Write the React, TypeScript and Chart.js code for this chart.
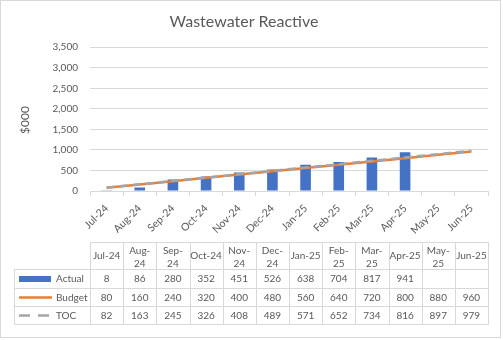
import React, { useEffect, useRef } from "react";
import { Chart, registerables } from "chart.js";

Chart.register(...registerables);

const categories = ["Jul-24", "Aug-24", "Sep-24", "Oct-24", "Nov-24", "Dec-24", "Jan-25", "Feb-25", "Mar-25", "Apr-25", "May-25", "Jun-25"];
const tableHeaders = ["Jul-24", "Aug-\n24", "Sep-\n24", "Oct-24", "Nov-\n24", "Dec-\n24", "Jan-25", "Feb-\n25", "Mar-\n25", "Apr-25", "May-\n25", "Jun-25"];
const actual: (number | null)[] = [8, 86, 280, 352, 451, 526, 638, 704, 817, 941, null, null];
const budget = [80, 160, 240, 320, 400, 480, 560, 640, 720, 800, 880, 960];
const toc = [82, 163, 245, 326, 408, 489, 571, 652, 734, 816, 897, 979];

const FONT = "Lato, 'Open Sans', sans-serif";
const TEXT = "#595959";
const GRID = "#D9D9D9";
const BLUE = "#4472C4";
const ORANGE = "#ED7D31";
const GREY = "#A5A5A5";

const fmt = (v: number | null) => (v == null ? "" : v.toLocaleString("en-US"));

const tablePlugin = {
  id: "dataTable",
  afterDraw(chart: any) {
    const ctx = chart.ctx as CanvasRenderingContext2D;
    const x = chart.scales.x;
    const n = categories.length;
    const cw = x.width / n;
    const left = x.left;
    const right = x.right;
    const legendLeft = 14.5;
    const headTop = 242.5;
    const headBottom = 269.5;
    const rows = [269.5, 288.5, 306.5, 324.5];

    ctx.save();
    ctx.strokeStyle = GRID;
    ctx.lineWidth = 1;
    ctx.strokeRect(0.5, 0.5, 500, 337);

    ctx.save();
    ctx.translate(25, 120);
    ctx.rotate(-Math.PI / 2);
    ctx.fillStyle = TEXT;
    ctx.font = `12px ${FONT}`;
    ctx.textAlign = "center";
    ctx.textBaseline = "middle";
    ctx.fillText("$000", 0, 0);
    ctx.restore();

    ctx.strokeStyle = GRID;
    ctx.lineWidth = 1;
    ctx.beginPath();
    ctx.moveTo(Math.round(left) + 0.5, headTop);
    ctx.lineTo(Math.round(right) + 0.5, headTop);
    for (const y of rows) {
      ctx.moveTo(legendLeft, y);
      ctx.lineTo(Math.round(right) + 0.5, y);
    }
    ctx.moveTo(legendLeft, rows[0]);
    ctx.lineTo(legendLeft, rows[3]);
    for (let i = 0; i <= n; i++) {
      const xx = Math.round(left + i * cw) + 0.5;
      ctx.moveTo(xx, headTop);
      ctx.lineTo(xx, rows[3]);
    }
    ctx.stroke();

    ctx.fillStyle = TEXT;
    ctx.font = `10px ${FONT}`;
    ctx.textAlign = "center";
    ctx.textBaseline = "middle";
    for (let i = 0; i < n; i++) {
      const cx = x.getPixelForValue(i);
      const lines = tableHeaders[i].split("\n");
      if (lines.length === 1) {
        ctx.fillText(lines[0], cx, (headTop + headBottom) / 2);
      } else {
        ctx.fillText(lines[0], cx, headTop + 8);
        ctx.fillText(lines[1], cx, headTop + 21.5);
      }
    }
    const series = [actual, budget, toc];
    for (let r = 0; r < 3; r++) {
      const cy = (rows[r] + rows[r + 1]) / 2;
      for (let i = 0; i < n; i++) {
        const cx = x.getPixelForValue(i);
        ctx.fillText(fmt(series[r][i] as number | null), cx, cy);
      }
    }
    const names = ["Actual", "Budget", "TOC"];
    ctx.textAlign = "left";
    for (let r = 0; r < 3; r++) {
      const cy = (rows[r] + rows[r + 1]) / 2;
      if (r === 0) {
        ctx.fillStyle = BLUE;
        ctx.fillRect(19, cy - 3, 32, 6);
      } else if (r === 1) {
        ctx.strokeStyle = ORANGE;
        ctx.lineWidth = 2.5;
        ctx.beginPath();
        ctx.moveTo(19, cy);
        ctx.lineTo(52, cy);
        ctx.stroke();
      } else {
        ctx.strokeStyle = GREY;
        ctx.lineWidth = 2.5;
        ctx.setLineDash([11, 8]);
        ctx.beginPath();
        ctx.moveTo(19, cy);
        ctx.lineTo(52, cy);
        ctx.stroke();
        ctx.setLineDash([]);
      }
      ctx.fillStyle = TEXT;
      ctx.fillText(names[r], 56, cy);
    }
    ctx.restore();
  },
};

export default function App() {
  const ref = useRef<HTMLCanvasElement>(null);
  useEffect(() => {
    if (!ref.current) return;
    const chart = new Chart(ref.current, {
      type: "bar",
      data: {
        labels: categories,
        datasets: [
          {
            type: "line",
            label: "TOC",
            data: toc,
            borderColor: GREY,
            borderWidth: 2.5,
            borderDash: [8, 5],
            pointRadius: 0,
            order: 1,
          } as any,
          {
            type: "line",
            label: "Budget",
            data: budget,
            borderColor: ORANGE,
            borderWidth: 2.5,
            pointRadius: 0,
            order: 2,
          } as any,
          {
            type: "bar",
            label: "Actual",
            data: actual,
            backgroundColor: BLUE,
            barPercentage: 0.32,
            categoryPercentage: 1,
            order: 3,
          } as any,
        ],
      },
      options: {
        animation: false,
        responsive: true,
        maintainAspectRatio: false,
        layout: { padding: { left: 0, right: 15, top: 0, bottom: 0 } },
        plugins: {
          legend: { display: false },
          tooltip: { enabled: false },
          title: {
            display: true,
            text: "Wastewater Reactive",
            color: TEXT,
            font: { family: FONT, size: 16, weight: "normal" },
            padding: { top: 12, bottom: 16 },
          },
        },
        scales: {
          x: {
            offset: true,
            grid: { display: true, drawOnChartArea: false, drawTicks: true, tickLength: 5, color: GRID, offset: true },
            border: { display: true, color: GRID },
            ticks: {
              color: TEXT,
              font: { family: FONT, size: 10.5 },
              maxRotation: 45,
              minRotation: 45,
              autoSkip: false,
              padding: 6,
            },
            afterFit: (s: any) => {
              s.height = 149;
            },
          },
          y: {
            min: 0,
            max: 3500,
            ticks: {
              stepSize: 500,
              color: TEXT,
              font: { family: FONT, size: 10 },
              padding: 12,
              callback: (v: any) => Number(v).toLocaleString("en-US"),
            },
            grid: { color: GRID, drawTicks: false },
            border: { display: false },
            afterFit: (s: any) => {
              s.width = 90;
            },
          },
        },
      },
      plugins: [tablePlugin],
    });
    return () => chart.destroy();
  }, []);
  return (
    <div style={{ position: "absolute", left: 0, top: 0, width: 503, height: 340, background: "#fff" }}>
      <canvas ref={ref} />
    </div>
  );
}
